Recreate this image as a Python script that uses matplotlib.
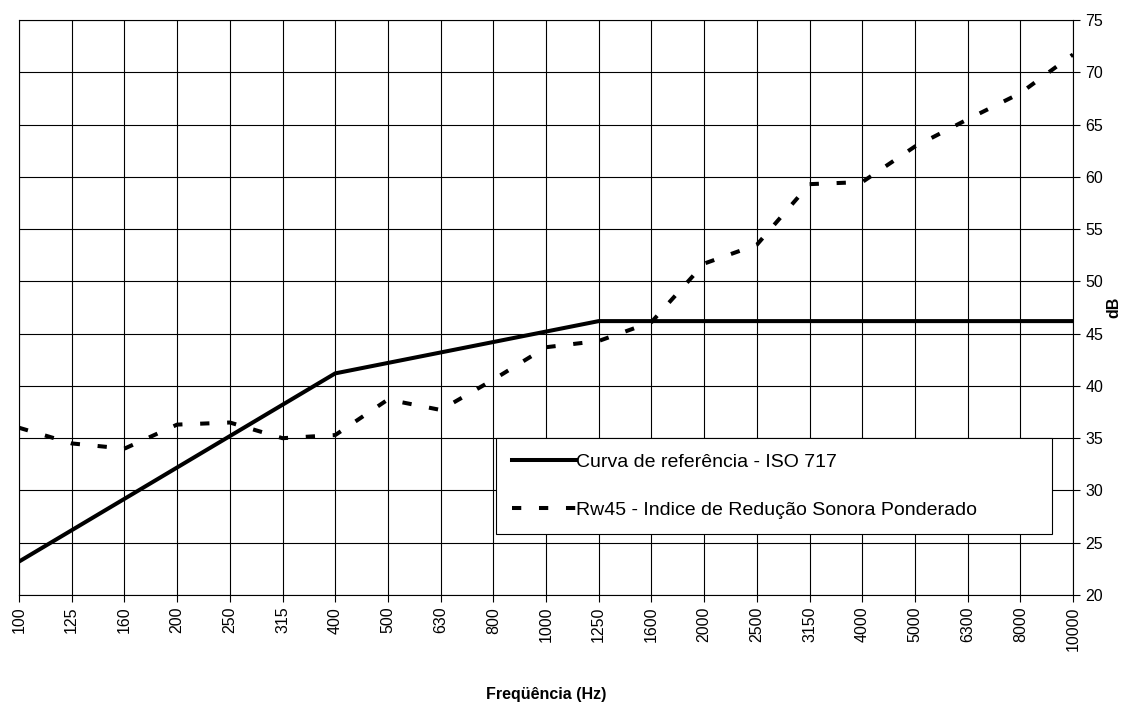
#Sound reduction index vs ISO 717 reference curve

import numpy as np
import matplotlib
matplotlib.use("Agg")
import matplotlib.pyplot as plt

font = {'family': ['Liberation Sans', 'DejaVu Sans'],
        'size': 11}
matplotlib.rc('font', **font)

freqs = ["100", "125", "160", "200", "250", "315", "400", "500", "630", "800",
         "1000", "1250", "1600", "2000", "2500", "3150", "4000", "5000",
         "6300", "8000", "10000"]

ref_iso717 = [23.2, 26.2, 29.2, 32.2, 35.2, 38.2, 41.2, 42.2, 43.2, 44.2,
              45.2, 46.2, 46.2, 46.2, 46.2, 46.2, 46.2, 46.2, 46.2, 46.2, 46.2]

rw45 = [36.0, 34.5, 34.0, 36.3, 36.5, 35.0, 35.3, 38.7, 37.7, 40.6,
        43.7, 44.3, 46.1, 51.7, 53.5, 59.3, 59.5, 62.9, 65.5, 68.0, 71.7]

x = np.arange(len(freqs))

fig = plt.figure(figsize=(11.27, 7.02), dpi=100)
ax = fig.add_axes([0.0169, 0.1524, 0.9352, 0.8191])

ax.plot(x, ref_iso717, color='black', linewidth=2.9,
        label="Curva de referência - ISO 717")
ax.plot(x, rw45, color='black', linewidth=2.9, dashes=(2.3, 4.4),
        label="Rw45 - Indice de Redução Sonora Ponderado")

ax.set_xlim(0, len(freqs) - 1)
ax.set_ylim(20, 75)
ax.set_xticks(x)
ax.set_xticklabels(freqs, rotation=90)
ax.set_yticks(np.arange(20, 76, 5))

ax.yaxis.tick_right()
ax.yaxis.set_label_position("right")
ax.tick_params(axis='both', direction='out', length=5, width=0.8,
               color='black', labelsize=11.5)
ax.tick_params(axis='y', pad=4)

ax.grid(True, color='black', linewidth=0.8)
for s in ax.spines.values():
    s.set_color('black')
    s.set_linewidth(0.8)

ax.set_ylabel("dB", fontweight='bold', fontsize=11.5, labelpad=2)
ax.set_xlabel("Freqüência (Hz)", fontweight='bold', fontsize=11.5)
ax.xaxis.set_label_coords(0.5, -0.16)

leg = ax.legend(loc='lower left', bbox_to_anchor=(0.453, 0.106, 0.527, 0.169),
                mode='expand', fontsize=14, frameon=True, fancybox=False,
                edgecolor='black', framealpha=1, handlelength=3.3,
                handletextpad=0.0, labelspacing=1.55, borderpad=0.78,
                borderaxespad=0)
leg.get_frame().set_linewidth(0.8)

plt.savefig("out.png", dpi=100)
